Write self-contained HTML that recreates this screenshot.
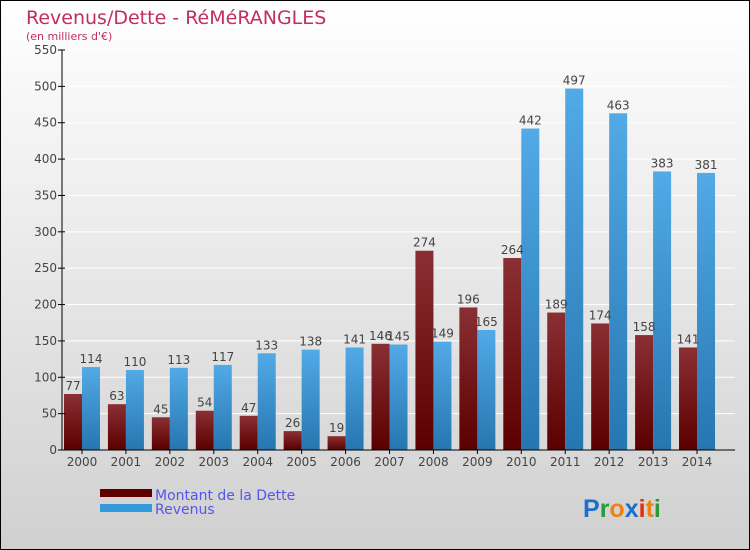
<!DOCTYPE html>
<html><head><meta charset="utf-8"><style>
body{margin:0;width:750px;height:550px;overflow:hidden}
svg{display:block;font-family:"DejaVu Sans","Liberation Sans",sans-serif}
</style></head><body>
<svg id="chart" width="750" height="550" viewBox="0 0 750 550">
<defs>
<linearGradient id="bg" x1="0" y1="0" x2="0" y2="1"><stop offset="0" stop-color="#ffffff"/><stop offset="1" stop-color="#d0d0d0"/></linearGradient>
<linearGradient id="gd" x1="0" y1="0" x2="0" y2="1"><stop offset="0" stop-color="#8a2f33"/><stop offset="1" stop-color="#5a0000"/></linearGradient>
<linearGradient id="gr" x1="0" y1="0" x2="0" y2="1"><stop offset="0" stop-color="#52aae6"/><stop offset="1" stop-color="#2676b0"/></linearGradient>
</defs>
<rect x="0.5" y="0.5" width="749" height="549" fill="url(#bg)" stroke="#000"/>
<text x="26" y="24" font-size="19" fill="#c0305a">Revenus/Dette - RéMéRANGLES</text>
<text x="26" y="40" font-size="11" fill="#c0305a">(en milliers d'€)</text>
<g id="grid"></g><g id="bars"></g><g id="axes"></g>
<g>
<rect x="100" y="489" width="52" height="8" fill="#600000"/>
<text x="155" y="500" font-size="14" fill="#5555ee">Montant de la Dette</text>
<rect x="100" y="504" width="52" height="8" fill="#3399dd"/>
<text x="155" y="514" font-size="14" fill="#5555ee">Revenus</text>
</g>
<g font-size="25" font-family="'Liberation Sans',sans-serif" font-weight="bold">
<text x="583" y="517"><tspan fill="#1a6fcc">P</tspan><tspan fill="#2a9a3a">r</tspan><tspan fill="#f08010">o</tspan><tspan fill="#1a6fcc">x</tspan><tspan fill="#e03010">i</tspan><tspan fill="#f08010">t</tspan><tspan fill="#2a9a3a">i</tspan></text>
</g>
</svg>
<script>
const years=["2000","2001","2002","2003","2004","2005","2006","2007","2008","2009","2010","2011","2012","2013","2014"];
const debt=[77,63,45,54,47,26,19,146,274,196,264,189,174,158,141];
const revenue=[114,110,113,117,133,138,141,145,149,165,442,497,463,383,381];
const ticks=[0,50,100,150,200,250,300,350,400,450,500,550];
const NS="http://www.w3.org/2000/svg";
const x0=62,step=43.93,bw=18,y0=450,yMax=550,ph=400;
const y=v=>y0-v/yMax*ph;
const cx=i=>x0+20+step*i;
function mk(t,a,p,txt){const e=document.createElementNS(NS,t);for(const k in a)e.setAttribute(k,a[k]);if(txt!=null)e.textContent=txt;p.appendChild(e);return e;}
const G=document.getElementById('grid'),B=document.getElementById('bars'),A=document.getElementById('axes');
ticks.forEach(t=>{
 const l=mk('line',{x1:x0,x2:735,y1:y(t),y2:y(t),stroke:'#fff','stroke-width':1},G);
 
 
 const tk=mk('line',{x1:x0-4,x2:x0+3,y1:y(t),y2:y(t),stroke:'#000'},A);
 
 
 const tx=mk('text',{x:x0-5,y:y(t)+4,'font-size':12,fill:'#444','text-anchor':'end'},A,String(t));
 
 
});
years.forEach((yr,i)=>{
 const c=cx(i);
 const d=mk('rect',{x:c-bw,y:y(debt[i]),width:bw,height:y0-y(debt[i]),fill:'url(#gd)'},B);
 
 
 const r=mk('rect',{x:c,y:y(revenue[i]),width:bw,height:y0-y(revenue[i]),fill:'url(#gr)'},B);
 
 
 const dl=mk('text',{x:c-bw/2,y:y(debt[i])-4,'font-size':12,fill:'#444','text-anchor':'middle'},B,String(debt[i]));
 
 
 const rl=mk('text',{x:c+bw/2,y:y(revenue[i])-4,'font-size':12,fill:'#444','text-anchor':'middle'},B,String(revenue[i]));
 
 
 const tk=mk('line',{x1:c,x2:c,y1:y0,y2:y0+4,stroke:'#000'},A);
 
 
 const xl=mk('text',{x:c,y:y0+16,'font-size':12,fill:'#444','text-anchor':'middle'},A,yr);
 
 
});
const ya=mk('line',{x1:x0,x2:x0,y1:y(550),y2:y0,stroke:'#000'},A);


const xa=mk('line',{x1:x0,x2:735,y1:y0,y2:y0,stroke:'#000'},A);


</script>
</body></html>
